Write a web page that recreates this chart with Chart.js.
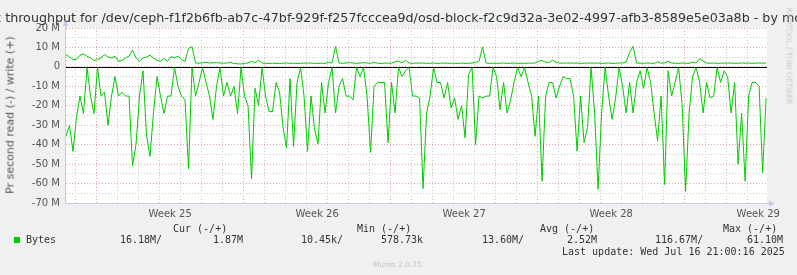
<!DOCTYPE html>
<html>
<head>
<meta charset="utf-8">
<script src="https://cdn.jsdelivr.net/npm/chart.js@4.4.1/dist/chart.umd.min.js"></script>
<style>
  html, body { margin: 0; padding: 0; background: #f0f0f0; }
  #wrap { position: relative; width: 797px; height: 275px; overflow: hidden; font-family: "DejaVu Sans", sans-serif; }
  #chart { position: absolute; left: 0; top: 0; }
  .title { position: absolute; top: 10px; left: 50%; transform: translateX(-50%); white-space: nowrap; font-size: 12.7px; line-height: 15px; color: #333; }
  .ytitle { position: absolute; left: 10px; top: 115px; transform: translate(-50%, -50%) rotate(-90deg); white-space: nowrap; font-size: 11px; line-height: 13px; color: #555; }
  .side { position: absolute; left: 789px; top: 56px; transform: translate(-50%, -50%) rotate(90deg); white-space: nowrap; font-size: 7.5px; color: #c8c8c8; }
  .m { position: absolute; font-family: "DejaVu Sans Mono", monospace; font-size: 10px; line-height: 12px; color: #333; white-space: pre; }
  .sw { position: absolute; left: 14px; top: 237px; width: 6px; height: 6px; background: #00cc00; }
  .ver { position: absolute; left: 373px; top: 260px; font-size: 7.5px; line-height: 9px; color: #c4c4c4; }
</style>
</head>
<body>
<div id="wrap">
  <canvas id="chart" width="797" height="275"></canvas>
  <div class="title">Disk throughput for /dev/ceph-f1f2b6fb-ab7c-47bf-929f-f257fcccea9d/osd-block-f2c9d32a-3e02-4997-afb3-8589e5e03a8b - by month</div>
  <div class="ytitle">Pr second read (-) / write (+)</div>
  <div class="side">RRDTOOL / TOBI OETIKER</div>

  <div class="m" style="left:173px; top:223px">Cur (-/+)</div>
  <div class="m" style="left:357px; top:223px">Min (-/+)</div>
  <div class="m" style="left:540px; top:223px">Avg (-/+)</div>
  <div class="m" style="left:723px; top:223px">Max (-/+)</div>

  <div class="sw"></div>
  <div class="m" style="left:26px; top:234px">Bytes</div>
  <div class="m" style="left:120px; top:234px">16.18M/</div>
  <div class="m" style="left:213px; top:234px">1.87M</div>
  <div class="m" style="left:301px; top:234px">10.45k/</div>
  <div class="m" style="left:381px; top:234px">578.73k</div>
  <div class="m" style="left:482px; top:234px">13.60M/</div>
  <div class="m" style="left:567px; top:234px">2.52M</div>
  <div class="m" style="left:655px; top:234px">116.67M/</div>
  <div class="m" style="left:747px; top:234px">61.10M</div>

  <div class="m" style="left:562px; top:246px">Last update: Wed Jul 16 21:00:16 2025</div>
  <div class="ver">Munin 2.0.75</div>
</div>

<script>
// one sample every 4 hours, read/write in M bytes per second
const stepHours = 4;
const spanHours = 801;
const firstWeekHour = 35;   // where week 25 starts on the time axis
const weekLabels = ['Week 25', 'Week 26', 'Week 27', 'Week 28', 'Week 29'];
const yLabelValues = [20, 10, 0, -10, -20, -30, -40, -50, -60, -70];

const readM = [
  35.7, 30, 43.5, 26, 15, 24, 0.3, 15, 24, 0.3,
  15, 13, 30, 15, 5, 15, 13, 15, 15, 51,
  40, 15, 2, 35, 46, 23.5, 5, 15, 24, 15,
  15, 0.3, 10, 15, 17, 52.5, 0.3, 15, 8, 0.3,
  8, 15, 27, 10, 0.3, 15, 8, 15, 10, 24,
  0.3, 15, 20, 57.6, 11, 20, 0.3, 15, 23, 23,
  8, 13, 31, 41.7, 6, 41, 8, 0.3, 15, 43.4,
  15, 32, 39.6, 8, 23.7, 8, 0.3, 23.7, 10, 6,
  15, 15, 17, 0.3, 5, 0.3, 15, 44, 10, 8,
  8, 8, 39, 8, 23.7, 0.3, 5, 2, 0.3, 15,
  15, 16, 62.6, 23.7, 15, 0.3, 8, 8, 16, 8,
  21, 16, 27, 20, 36.5, 4, 0.3, 40, 15, 16,
  15, 15, 0.3, 5, 22, 8, 23.7, 17, 8, 0.3,
  5, 0.3, 8, 15, 35.7, 15, 58.8, 15, 8, 8,
  16, 10, 5, 6, 6, 15, 43.4, 15, 39, 31,
  0.3, 23.7, 63, 23.7, 0.3, 15, 27, 16, 0.3, 10,
  23.7, 8, 23.7, 8, 2, 11, 0.3, 8, 23.7, 38,
  15, 60.5, 2, 15, 8, 0.3, 19.4, 64, 23.7, 5,
  0.3, 8, 23.7, 8, 16, 15, 0.3, 8, 2, 5,
  23.7, 8, 50, 23.7, 58.8, 15, 8, 8, 10, 54.5, 16
];

const writeM = [
  6.3, 5.1, 3.8, 3.8, 6.0, 6.7, 5.5, 4.6, 3.3, 3.8,
  4.6, 6.3, 5.1, 4.6, 5.5, 2.9, 3.3, 4.6, 5.5, 8.6,
  4.6, 3.0, 4.6, 5.1, 6.0, 4.6, 3.4, 2.9, 4.3, 2.9,
  5.3, 4.6, 5.5, 3.8, 2.9, 9.5, 10.3, 2.0, 1.9, 2.1,
  2.4, 2.0, 2.1, 2.2, 2.0, 1.9, 2.0, 2.4, 1.7, 1.6,
  1.5, 1.8, 2.0, 2.9, 2.0, 3.5, 2.0, 1.8, 1.8, 1.9,
  1.8, 1.8, 1.9, 2.0, 1.8, 1.9, 1.8, 1.8, 2.0, 1.9,
  2.0, 1.8, 1.8, 1.9, 1.8, 2.3, 2.0, 10.5, 2.0, 1.8,
  2.0, 2.2, 2.0, 1.8, 2.0, 2.2, 2.0, 1.8, 2.3, 1.9,
  1.8, 1.9, 2.0, 1.8, 2.6, 3.0, 2.0, 3.4, 2.0, 1.8,
  2.0, 1.9, 2.0, 1.8, 1.9, 2.0, 1.8, 1.9, 2.0, 1.8,
  1.9, 1.8, 1.8, 2.0, 1.8, 1.9, 2.0, 2.2, 3.0, 10.3,
  2.0, 1.8, 1.9, 1.8, 1.9, 2.0, 1.8, 1.9, 2.0, 1.8,
  1.9, 1.8, 2.0, 1.9, 2.0, 3.0, 3.3, 2.4, 2.2, 3.6,
  2.2, 2.0, 1.9, 2.0, 2.0, 1.9, 2.0, 1.8, 1.9, 2.0,
  2.0, 1.9, 2.0, 1.8, 1.9, 2.0, 1.8, 1.9, 2.0, 2.0,
  2.5, 7.5, 10.6, 2.0, 1.9, 1.8, 2.0, 1.9, 1.8, 2.6,
  1.9, 2.0, 2.9, 2.0, 1.9, 1.8, 2.0, 1.9, 1.8, 2.5,
  2.0, 4.3, 3.0, 2.0, 1.9, 2.0, 1.8, 1.9, 2.0, 1.9,
  2.0, 1.8, 1.9, 2.0, 1.9, 2.0, 1.8, 1.9, 2.0, 1.9, 2.0
];

const green = '#00cc00';
const minorGrid = '#cacaca';
const majorGrid = '#eaa0a0';
const axisBlue = '#c6cbf2';

// x ticks: a line every day, red at week start, plus unlined week centres for labels
let xTicks = [];
for (let h = firstWeekHour - 24; h <= spanHours; h += 24) {
  let k = Math.round((h - firstWeekHour) / 24);
  xTicks.push({ value: h, kind: (k % 7 === 0) ? 'week' : 'day' });
}
weekLabels.forEach((w, i) => {
  xTicks.push({ value: firstWeekHour + 84 + 168 * i, kind: 'label', text: w });
});
xTicks.sort((a, b) => a.value - b.value);

let yTicks = [];
for (let v = -70; v <= 20; v += 5) {
  yTicks.push({ value: v, major: yLabelValues.indexOf(v) >= 0 });
}

const muninBits = {
  id: 'muninBits',
  beforeDraw(chart) {
    const { ctx, chartArea: a } = chart;
    ctx.save();
    ctx.fillStyle = '#ffffff';
    ctx.fillRect(a.left, a.top, a.right - a.left, a.bottom - a.top);
    ctx.restore();
  },
  beforeDatasetsDraw(chart) {
    const { ctx, chartArea: a } = chart;
    const y0 = Math.round(chart.scales.y.getPixelForValue(0)) + 0.5;
    ctx.save();
    ctx.strokeStyle = '#000000';
    ctx.lineWidth = 1;
    ctx.beginPath();
    ctx.moveTo(a.left, y0);
    ctx.lineTo(a.right, y0);
    ctx.stroke();
    ctx.restore();
  },
  afterDraw(chart) {
    const { ctx, chartArea: a } = chart;
    const x = Math.round(a.left) - 0.5;
    const y = Math.round(a.bottom) + 0.5;
    ctx.save();
    ctx.strokeStyle = axisBlue;
    ctx.fillStyle = axisBlue;
    ctx.lineWidth = 1;
    ctx.beginPath();
    ctx.moveTo(x, y);
    ctx.lineTo(x, a.top - 5);
    ctx.moveTo(x, y);
    ctx.lineTo(a.right + 5, y);
    ctx.stroke();
    // arrow heads
    ctx.beginPath();
    ctx.moveTo(x - 3, a.top - 2);
    ctx.lineTo(x + 3, a.top - 2);
    ctx.lineTo(x, a.top - 8);
    ctx.closePath();
    ctx.fill();
    ctx.beginPath();
    ctx.moveTo(a.right + 2, y - 3);
    ctx.lineTo(a.right + 2, y + 3);
    ctx.lineTo(a.right + 8, y);
    ctx.closePath();
    ctx.fill();
    ctx.restore();
  }
};

const ctx = document.getElementById('chart').getContext('2d');

new Chart(ctx, {
  type: 'line',
  data: {
    datasets: [
      {
        label: 'read',
        data: readM.map((v, i) => ({ x: i * stepHours, y: -v })),
        borderColor: green,
        borderWidth: 1,
        pointRadius: 0,
        tension: 0,
        fill: false
      },
      {
        label: 'write',
        data: writeM.map((v, i) => ({ x: i * stepHours, y: v })),
        borderColor: green,
        borderWidth: 1,
        pointRadius: 0,
        tension: 0,
        fill: false
      }
    ]
  },
  options: {
    responsive: false,
    animation: false,
    events: [],
    layout: { padding: { top: 28, right: 30, left: 0, bottom: 0 } },
    plugins: {
      legend: { display: false },
      tooltip: { enabled: false },
      title: { display: false }
    },
    scales: {
      x: {
        type: 'linear',
        min: 0,
        max: spanHours,
        afterBuildTicks: (scale) => { scale.ticks = xTicks.map(t => Object.assign({}, t)); },
        afterFit: (scale) => { scale.height = 72; },
        grid: {
          drawTicks: false,
          color: (c) => {
            if (!c.tick) return minorGrid;
            if (c.tick.kind === 'label') return 'rgba(0,0,0,0)';
            return c.tick.kind === 'week' ? majorGrid : minorGrid;
          }
        },
        border: { display: false, dash: [1, 2] },
        ticks: {
          autoSkip: false,
          maxRotation: 0,
          padding: 5,
          color: '#555',
          font: { family: 'DejaVu Sans', size: 10 },
          callback: (v, i, ticks) => ticks[i].text || ''
        }
      },
      y: {
        min: -70,
        max: 20,
        afterBuildTicks: (scale) => { scale.ticks = yTicks.map(t => Object.assign({}, t)); },
        afterFit: (scale) => { scale.width = 66; },
        grid: {
          drawTicks: false,
          color: (c) => (c.tick && c.tick.major) ? majorGrid : minorGrid
        },
        border: { display: false, dash: [1, 2] },
        ticks: {
          autoSkip: false,
          padding: 6,
          color: '#555',
          font: { family: 'DejaVu Sans', size: 10 },
          callback: (v, i, ticks) => {
            if (!ticks[i].major) return '';
            return v === 0 ? '0' : v + ' M';
          }
        }
      }
    }
  },
  plugins: [muninBits]
});
</script>
</body>
</html>
